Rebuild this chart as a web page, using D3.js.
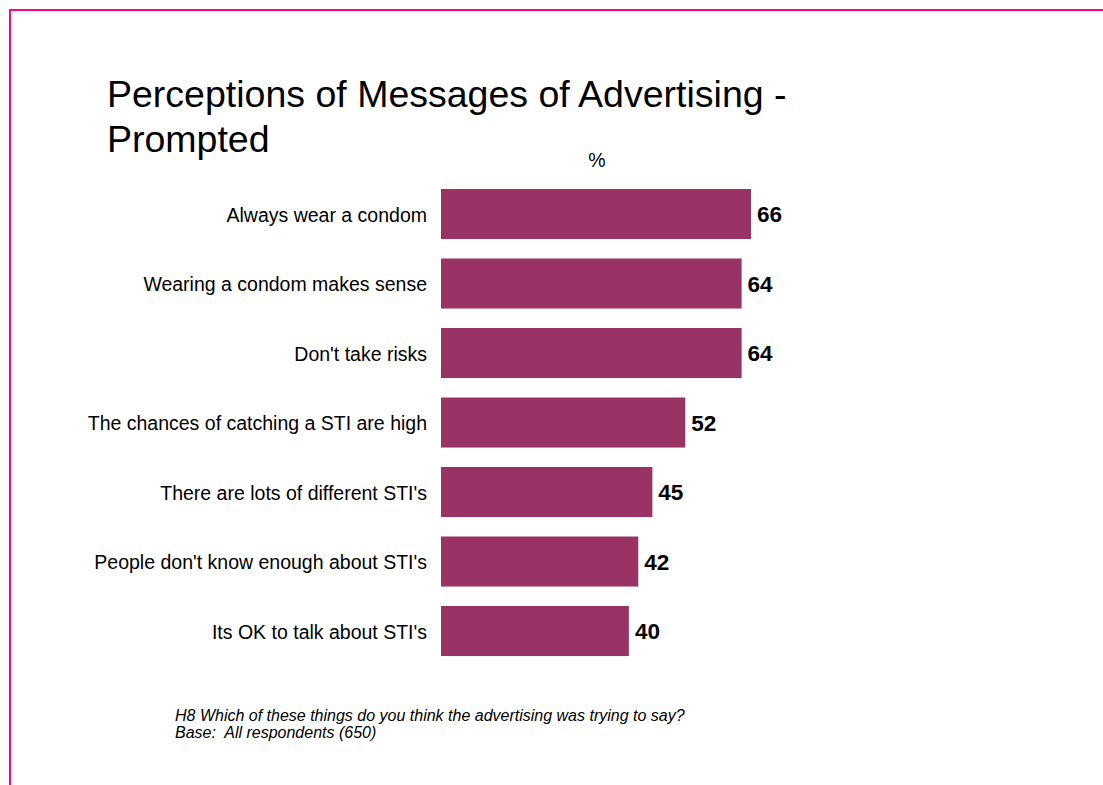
<!DOCTYPE html>
<html>
<head>
<meta charset="utf-8">
<script src="https://cdn.jsdelivr.net/npm/d3@7"></script>
<style>
  html, body { margin: 0; padding: 0; background: #fff; }
  svg { display: block; font-family: "Liberation Sans", Arial, sans-serif; }
  text { white-space: pre; }
</style>
</head>
<body>
<svg id="chart" width="1103" height="785"></svg>
<script>
// Prompted perceptions of the advertising's messages (% of respondents)
const categories = [
  "Always wear a condom",
  "Wearing a condom makes sense",
  "Don't take risks",
  "The chances of catching a STI are high",
  "There are lots of different STI's",
  "People don't know enough about STI's",
  "Its OK to talk about STI's"
];
const values = [66, 64, 64, 52, 45, 42, 40];
const titleLines = ["Perceptions of Messages of Advertising -", "Prompted"];
const unitLabel = "%";
const footnotes = [
  "H8 Which of these things do you think the advertising was trying to say?",
  "Base:  All respondents (650)"
];

const svg = d3.select("#chart");
const barColor = "#993366";
const frameColor = "#FF0090";

// Slide frame: top and left rules
svg.append("line").attr("x1", 9).attr("x2", 1103).attr("y1", 10).attr("y2", 10)
  .attr("stroke", frameColor).attr("stroke-width", 2);
svg.append("line").attr("x1", 10).attr("x2", 10).attr("y1", 9).attr("y2", 785)
  .attr("stroke", frameColor).attr("stroke-width", 2);

// Title
svg.append("g").selectAll("text").data(titleLines).join("text")
  .attr("x", 107)
  .attr("y", (d, i) => 107 + i * 45)
  .attr("font-size", 37.5)
  .attr("fill", "#000")
  .text(d => d);

// Scales
const x = d3.scaleLinear().domain([0, 100]).range([441, 441 + 469.7]);
const y = d3.scaleBand().domain(categories)
  .range([179.27, 179.27 + 7 * 69.5])
  .paddingInner(0.28).paddingOuter(0.14);

// Unit label above bars
svg.append("text")
  .attr("x", 597).attr("y", 167)
  .attr("text-anchor", "middle")
  .attr("font-size", 19.5)
  .text(unitLabel);

const rows = categories.map((c, i) => ({ c, v: values[i] }));

// Bars
svg.append("g").selectAll("rect").data(rows).join("rect")
  .attr("x", x(0))
  .attr("y", d => y(d.c))
  .attr("width", d => x(d.v) - x(0))
  .attr("height", y.bandwidth())
  .attr("fill", barColor);

// Category labels
svg.append("g").selectAll("text").data(rows).join("text")
  .attr("x", 427)
  .attr("y", d => y(d.c) + y.bandwidth() / 2 + 7.5)
  .attr("text-anchor", "end")
  .attr("font-size", 19.5)
  .attr("fill", "#000")
  .text(d => d.c);

// Value labels
svg.append("g").selectAll("text").data(rows).join("text")
  .attr("x", d => x(d.v) + 6)
  .attr("y", d => y(d.c) + y.bandwidth() / 2 + 8)
  .attr("font-size", 22.5)
  .attr("font-weight", "bold")
  .attr("fill", "#000")
  .text(d => d.v);

// Question and base note
svg.append("g").selectAll("text").data(footnotes).join("text")
  .attr("x", 175)
  .attr("y", (d, i) => 721 + i * 16.5)
  .attr("font-size", 16)
  .attr("font-style", "italic")
  .attr("fill", "#000")
  .text(d => d);
</script>
</body>
</html>
